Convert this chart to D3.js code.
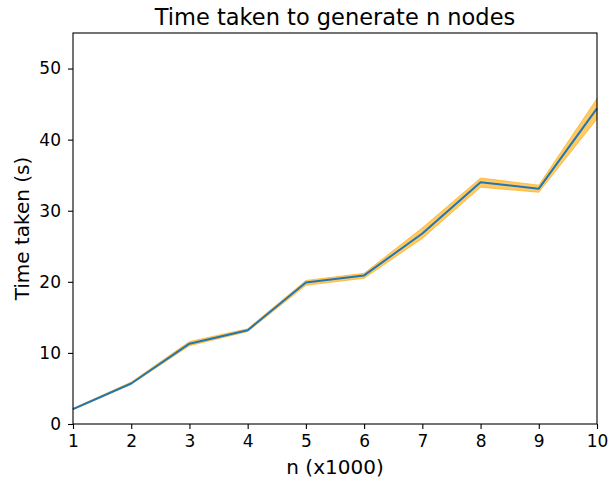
<!DOCTYPE html>
<html>
<head>
<meta charset="utf-8">
<script src="https://cdn.jsdelivr.net/npm/d3@7"></script>
<style>
  body { margin: 0; background: #fff; }
  text { font-family: "DejaVu Sans", sans-serif; fill: #000; }
</style>
</head>
<body>
<div id="chart"></div>
<script>
// values
const nValues = [1, 2, 3, 4, 5, 6, 7, 8, 9, 10];
const meanTime = [2.1, 5.7, 11.3, 13.2, 19.9, 20.9, 26.8, 34.0, 33.1, 44.4];
const lowTime = [2.0, 5.6, 11.0, 13.0, 19.5, 20.5, 26.1, 33.3, 32.6, 42.9];
const highTime = [2.2, 5.9, 11.6, 13.4, 20.2, 21.2, 27.6, 34.6, 33.6, 45.8];
const xTicks = [1, 2, 3, 4, 5, 6, 7, 8, 9, 10];
const yTicks = [0, 10, 20, 30, 40, 50];

const W = 608, H = 485;
const margin = { top: 33, right: 11, bottom: 61, left: 73 };
const width = W - margin.left - margin.right;
const height = H - margin.top - margin.bottom;

const rows = nValues.map((n, i) => ({ n, mean: meanTime[i], lo: lowTime[i], hi: highTime[i] }));

const svg = d3.select('#chart')
  .append('svg')
  .attr('width', W)
  .attr('height', H);

const g = svg.append('g')
  .attr('transform', `translate(${margin.left},${margin.top})`);

const x = d3.scaleLinear().domain([1, 10]).range([0, width]);
const y = d3.scaleLinear().domain([0, 55]).range([height, 0]);

// std band
const area = d3.area()
  .x(d => x(d.n))
  .y0(d => y(d.lo))
  .y1(d => y(d.hi));

g.append('path')
  .datum(rows)
  .attr('d', area)
  .attr('fill', 'orange')
  .attr('fill-opacity', 0.6)
  .attr('stroke', 'orange')
  .attr('stroke-opacity', 0.6)
  .attr('stroke-width', 1);

const line = d3.line()
  .x(d => x(d.n))
  .y(d => y(d.mean));

g.append('path')
  .datum(rows)
  .attr('d', line)
  .attr('fill', 'none')
  .attr('stroke', '#1f77b4')
  .attr('stroke-width', 2)
  .attr('stroke-linejoin', 'round');

// axes
const xAxis = g.append('g')
  .attr('transform', `translate(0,${height})`)
  .call(d3.axisBottom(x).tickValues(xTicks).tickFormat(d3.format('d')).tickSize(5).tickPadding(6));

const yAxis = g.append('g')
  .call(d3.axisLeft(y).tickValues(yTicks).tickSize(5).tickPadding(7));

[xAxis, yAxis].forEach(ax => {
  ax.select('.domain').remove();
  ax.selectAll('line').attr('stroke', '#000').attr('stroke-width', 1.1);
  ax.selectAll('text').style('font-size', '17px').attr('fill', '#000');
});

// frame
g.append('rect')
  .attr('width', width)
  .attr('height', height)
  .attr('fill', 'none')
  .attr('stroke', '#000')
  .attr('stroke-width', 1.1);

g.append('text')
  .attr('x', width / 2)
  .attr('y', -8)
  .attr('text-anchor', 'middle')
  .style('font-size', '22.5px')
  .text('Time taken to generate n nodes');

g.append('text')
  .attr('x', width / 2)
  .attr('y', height + 50)
  .attr('text-anchor', 'middle')
  .style('font-size', '20px')
  .text('n (x1000)');

g.append('text')
  .attr('transform', 'rotate(-90)')
  .attr('x', -height / 2)
  .attr('y', -44)
  .attr('text-anchor', 'middle')
  .style('font-size', '20px')
  .text('Time taken (s)');
</script>
</body>
</html>
